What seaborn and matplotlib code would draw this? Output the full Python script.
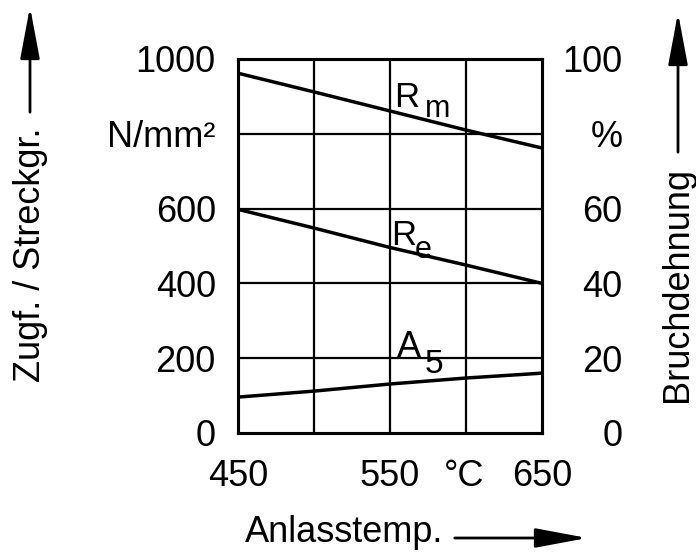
import numpy as np
import pandas as pd
import seaborn as sns
from matplotlib import pyplot as plt
from matplotlib.patches import FancyArrowPatch

# values
temps = [450, 500, 550, 600, 650]
rm = [962, 912, 861, 810, 762]      # N/mm²
re = [598, 548, 496, 449, 400]      # N/mm²
a5 = [9.6, 11.2, 13.1, 14.7, 16.0]  # %

left_ticks = [0, 200, 400, 600, 800, 1000]
left_labels = ['0', '200', '400', '600', 'N/mm²', '1000']
right_ticks = [0, 20, 40, 60, 80, 100]
right_labels = ['0', '20', '40', '60', '%', '100']
x_ticks = [450, 550, 650]
x_labels = ['450', '550', '650']

df = pd.DataFrame({'temp': temps, 'Rm': rm, 'Re': re, 'A5': a5})

sns.set_style('white')
plt.rcParams['font.family'] = ['Liberation Sans', 'DejaVu Sans']
plt.rcParams['text.color'] = 'black'
plt.rcParams['xtick.color'] = 'black'
plt.rcParams['ytick.color'] = 'black'

fs = 26
fig = plt.figure(figsize=(6.96, 5.59), dpi=100)
ax = fig.add_axes([238 / 696, 1 - 433 / 559, 304 / 696, 374 / 559])

sns.lineplot(data=df, x='temp', y='Rm', ax=ax, color='black', lw=2.5)
sns.lineplot(data=df, x='temp', y='Re', ax=ax, color='black', lw=2.5)
ax.set_xlim(450, 650)
ax.set_ylim(0, 1000)

ax2 = ax.twinx()
sns.lineplot(data=df, x='temp', y='A5', ax=ax2, color='black', lw=2.5)
ax2.set_ylim(0, 100)

# grid
for x in temps[1:-1]:
    ax.axvline(x, color='black', lw=1.6, zorder=0)
for y in left_ticks[1:-1]:
    ax.axhline(y, color='black', lw=1.6, zorder=0)
for a in (ax, ax2):
    for s in a.spines.values():
        s.set_color('black')
        s.set_linewidth(2.2)

ax.set_yticks(left_ticks, left_labels, fontsize=fs)
ax.tick_params(axis='y', length=0, pad=16, labelcolor='black')
ax2.set_yticks(right_ticks, right_labels, fontsize=fs)
ax2.tick_params(axis='y', length=0, pad=58, labelcolor='black')
for t in ax2.get_yticklabels():
    t.set_ha('right')

ax.set_xticks(x_ticks, x_labels, fontsize=fs)
ax.tick_params(axis='x', length=0, pad=19, labelcolor='black')
ax.annotate('°C', xy=(599, 0), xycoords=('data', 'axes fraction'),
            xytext=(0, -19), textcoords='offset points',
            fontsize=fs, ha='center', va='top', color='black')

ax.set_xlabel('')
ax.set_ylabel('')
ax2.set_ylabel('')

# curve labels (letter + lowered subscript)
ax.text(553, 872, 'R', fontsize=25, ha='left', va='baseline', color='black')
ax.text(573, 845, 'm', fontsize=22, ha='left', va='baseline', color='black')
ax.text(551, 503, 'R', fontsize=25, ha='left', va='baseline', color='black')
ax.text(566, 468, 'e', fontsize=22, ha='left', va='baseline', color='black')
ax2.text(554.5, 20.3, 'A', fontsize=26, ha='left', va='baseline', color='black')
ax2.text(573, 16.0, '5', fontsize=24, ha='left', va='baseline', color='black')

# axis titles with arrows
fig.text(30 / 696, 1 - 255 / 559, 'Zugf. / Streckgr.', rotation=90,
         fontsize=fs, ha='center', va='center', color='black')
fig.text(678 / 696, 1 - 285 / 559, 'Bruchdehnung', rotation=90,
         fontsize=fs, ha='center', va='center', color='black')
fig.text(344 / 696, 1 - 532 / 559, 'Anlasstemp.', fontsize=fs,
         ha='center', va='center', color='black')

arrow = dict(arrowstyle='-|>,head_length=1.6,head_width=0.3', color='black',
             lw=2, mutation_scale=20, transform=fig.transFigure)
fig.add_artist(FancyArrowPatch((30 / 696, 1 - 115 / 559),
                               (30 / 696, 1 - 4 / 559), **arrow))
fig.add_artist(FancyArrowPatch((678 / 696, 1 - 155 / 559),
                               (678 / 696, 1 - 10 / 559), **arrow))
fig.add_artist(FancyArrowPatch((452 / 696, 1 - 538 / 559),
                               (590 / 696, 1 - 538 / 559), **arrow))

fig.savefig('out.png', dpi=100)
